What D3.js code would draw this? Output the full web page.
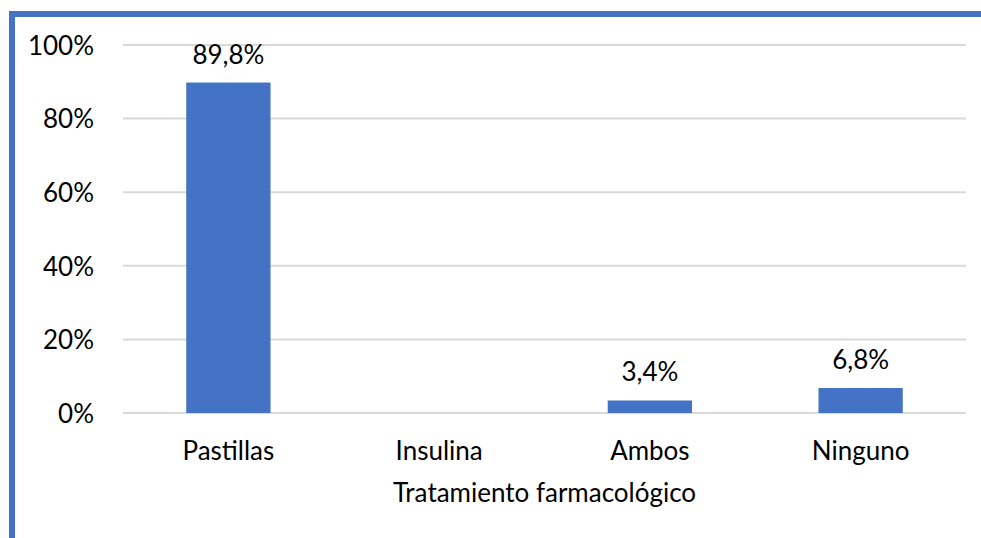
<!DOCTYPE html>
<html>
<head>
<meta charset="utf-8">
<script src="https://cdn.jsdelivr.net/npm/d3@7"></script>
<style>
  html, body { margin: 0; padding: 0; background: #fff; }
  svg { display: block; }
  text { font-family: Lato, "Open Sans", sans-serif; fill: #000; }
</style>
</head>
<body>
<svg id="chart" width="981" height="538"></svg>
<script>
const categories = ["Pastillas", "Insulina", "Ambos", "Ninguno"];
const values = [89.8, 0, 3.4, 6.8];
const valueLabels = ["89,8%", "", "3,4%", "6,8%"];
const yTicks = [0, 20, 40, 60, 80, 100];
const xTitle = "Tratamiento farmacológico";

const data = categories.map((c, i) => ({ cat: c, value: values[i], label: valueLabels[i] }));

const svg = d3.select("#chart");
const W = 981, H = 538;
const m = { left: 123, right: 15, top: 45, bottom: 125 };
const FS = 26;

// frame border (blue, top and left)
svg.append("rect").attr("x", 9).attr("y", 11).attr("width", W - 9).attr("height", 6).attr("fill", "#4472C4");
svg.append("rect").attr("x", 9).attr("y", 11).attr("width", 6).attr("height", H - 11).attr("fill", "#4472C4");

const x = d3.scaleBand().domain(categories).range([m.left, W - m.right]).paddingInner(0.6).paddingOuter(0.3);
const y = d3.scaleLinear().domain([0, 100]).range([H - m.bottom, m.top]);

// gridlines
svg.append("g").selectAll("line").data(yTicks).join("line")
  .attr("x1", m.left).attr("x2", W - m.right)
  .attr("y1", d => y(d)).attr("y2", d => y(d))
  .attr("stroke", "#d9d9d9").attr("stroke-width", 2);

// y axis labels
const yAxis = d3.axisLeft(y).tickValues(yTicks).tickFormat(d => d + "%").tickSize(0).tickPadding(29);
const ya = svg.append("g").attr("transform", `translate(${m.left},0)`).call(yAxis);
ya.select(".domain").remove();
ya.selectAll("text").attr("font-size", FS).attr("font-family", "Lato, sans-serif").attr("fill", "#000").attr("dy", "0.36em");

// bars
svg.append("g").selectAll("rect").data(data).join("rect")
  .attr("x", d => x(d.cat))
  .attr("width", x.bandwidth())
  .attr("y", d => y(d.value))
  .attr("height", d => y(0) - y(d.value))
  .attr("fill", "#4472C4");

// value labels
svg.append("g").selectAll("text").data(data.filter(d => d.label)).join("text")
  .attr("x", d => x(d.cat) + x.bandwidth() / 2)
  .attr("y", d => y(d.value) - 19)
  .attr("text-anchor", "middle")
  .attr("font-size", FS)
  .text(d => d.label);

// x axis labels
const xAxis = d3.axisBottom(x).tickSize(0).tickPadding(0);
const xa = svg.append("g").attr("transform", `translate(0,${y(0)})`).call(xAxis);
xa.select(".domain").remove();
xa.selectAll("text").attr("font-size", FS).attr("font-family", "Lato, sans-serif").attr("fill", "#000").attr("dy", 0).attr("y", 47);

// x title
svg.append("text").attr("x", (m.left + W - m.right) / 2).attr("y", 502)
  .attr("text-anchor", "middle").attr("font-size", FS).text(xTitle);
</script>
</body>
</html>
